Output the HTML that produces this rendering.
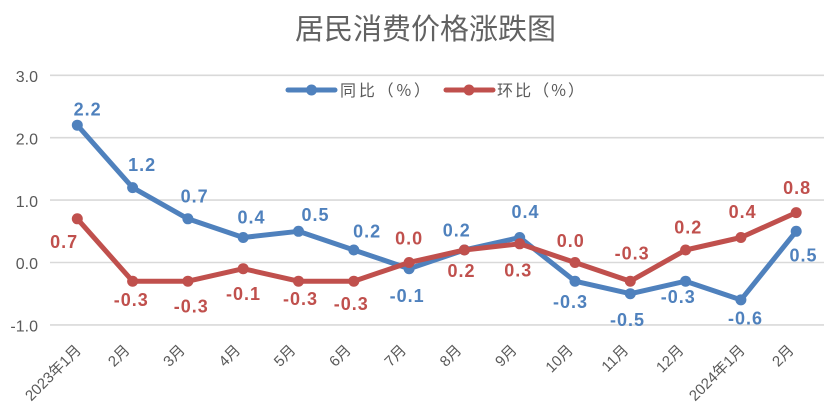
<!DOCTYPE html>
<html>
<head>
<meta charset="utf-8">
<style>
html,body{margin:0;padding:0;background:#fff;}
svg{display:block;}
text{font-family:"Liberation Sans","Noto Sans CJK SC",sans-serif;}
.yl{font-size:16px;fill:#595959;text-anchor:end;}
.xl{font-size:15px;fill:#595959;text-anchor:end;}
.bl{font-size:18px;font-weight:bold;fill:#4F81BD;text-anchor:middle;letter-spacing:1px;}
.rl{font-size:18px;font-weight:bold;fill:#C0504D;text-anchor:middle;letter-spacing:1px;}
</style>
</head>
<body>
<svg width="827" height="414" viewBox="0 0 827 414" xmlns="http://www.w3.org/2000/svg">
<rect width="827" height="414" fill="#fff"/>
<!-- title -->
<text x="295" y="39" style="font-family:'Noto Sans CJK SC',sans-serif;font-size:29px;fill:#626262;">居民消费价格涨跌图</text>

<!-- gridlines -->
<g stroke="#D9D9D9" stroke-width="1.6">
<line x1="50" y1="75.3" x2="824" y2="75.3"/>
<line x1="50" y1="137.7" x2="824" y2="137.7"/>
<line x1="50" y1="200.1" x2="824" y2="200.1"/>
<line x1="50" y1="262.5" x2="824" y2="262.5"/>
<line x1="50" y1="324.9" x2="824" y2="324.9"/>
</g>

<!-- y labels -->
<text class="yl" x="38" y="82">3.0</text>
<text class="yl" x="38" y="144.4">2.0</text>
<text class="yl" x="38" y="206.8">1.0</text>
<text class="yl" x="38" y="269.2">0.0</text>
<text class="yl" x="38" y="331.6">-1.0</text>

<!-- legend -->
<line x1="288" y1="90" x2="335" y2="90" stroke="#4F81BD" stroke-width="5" stroke-linecap="round"/>
<circle cx="311.5" cy="90" r="5.5" fill="#4F81BD"/>
<text x="340" y="96" textLength="90" lengthAdjust="spacing" style="font-family:'Noto Sans CJK SC',sans-serif;font-size:16px;fill:#595959;">同比（%）</text>
<line x1="446" y1="90" x2="493" y2="90" stroke="#C0504D" stroke-width="5" stroke-linecap="round"/>
<circle cx="469" cy="90" r="5.5" fill="#C0504D"/>
<text x="497" y="96" textLength="87" lengthAdjust="spacing" style="font-family:'Noto Sans CJK SC',sans-serif;font-size:16px;fill:#595959;">环比（%）</text>

<!-- blue series -->
<g fill="#4F81BD">
<polyline fill="none" stroke="#4F81BD" stroke-width="5" stroke-linejoin="round" stroke-linecap="round"
points="77.3,125.2 132.6,187.6 187.9,218.8 243.2,237.5 298.5,231.3 353.8,250 409.1,268.7 464.4,250 519.7,237.5 575,281.2 630.3,293.7 685.6,281.2 740.9,299.9 796.2,231.3"/>
<circle cx="77.3" cy="125.2" r="5.5"/>
<circle cx="132.6" cy="187.6" r="5.5"/>
<circle cx="187.9" cy="218.8" r="5.5"/>
<circle cx="243.2" cy="237.5" r="5.5"/>
<circle cx="298.5" cy="231.3" r="5.5"/>
<circle cx="353.8" cy="250" r="5.5"/>
<circle cx="409.1" cy="268.7" r="5.5"/>
<circle cx="464.4" cy="250" r="5.5"/>
<circle cx="519.7" cy="237.5" r="5.5"/>
<circle cx="575" cy="281.2" r="5.5"/>
<circle cx="630.3" cy="293.7" r="5.5"/>
<circle cx="685.6" cy="281.2" r="5.5"/>
<circle cx="740.9" cy="299.9" r="5.5"/>
<circle cx="796.2" cy="231.3" r="5.5"/>
</g>

<!-- red series -->
<g fill="#C0504D">
<polyline fill="none" stroke="#C0504D" stroke-width="5" stroke-linejoin="round" stroke-linecap="round"
points="77.3,218.8 132.6,281.2 187.9,281.2 243.2,268.7 298.5,281.2 353.8,281.2 409.1,262.5 464.4,250 519.7,243.8 575,262.5 630.3,281.2 685.6,250 740.9,237.5 796.2,212.6"/>
<circle cx="77.3" cy="218.8" r="5.5"/>
<circle cx="132.6" cy="281.2" r="5.5"/>
<circle cx="187.9" cy="281.2" r="5.5"/>
<circle cx="243.2" cy="268.7" r="5.5"/>
<circle cx="298.5" cy="281.2" r="5.5"/>
<circle cx="353.8" cy="281.2" r="5.5"/>
<circle cx="409.1" cy="262.5" r="5.5"/>
<circle cx="464.4" cy="250" r="5.5"/>
<circle cx="519.7" cy="243.8" r="5.5"/>
<circle cx="575" cy="262.5" r="5.5"/>
<circle cx="630.3" cy="281.2" r="5.5"/>
<circle cx="685.6" cy="250" r="5.5"/>
<circle cx="740.9" cy="237.5" r="5.5"/>
<circle cx="796.2" cy="212.6" r="5.5"/>
</g>

<!-- blue labels -->
<text class="bl" x="87.7" y="115.6">2.2</text>
<text class="bl" x="142.2" y="171.1">1.2</text>
<text class="bl" x="194.7" y="202.6">0.7</text>
<text class="bl" x="251.5" y="223.4">0.4</text>
<text class="bl" x="315.5" y="221.1">0.5</text>
<text class="bl" x="367.2" y="237.4">0.2</text>
<text class="bl" x="407.2" y="301.9">-0.1</text>
<text class="bl" x="456.8" y="236.4">0.2</text>
<text class="bl" x="525.5" y="218.1">0.4</text>
<text class="bl" x="570.5" y="308.1">-0.3</text>
<text class="bl" x="627.5" y="326.1">-0.5</text>
<text class="bl" x="678.3" y="303.1">-0.3</text>
<text class="bl" x="745.5" y="324.7">-0.6</text>
<text class="bl" x="803.5" y="261.4">0.5</text>

<!-- red labels -->
<text class="rl" x="64.2" y="248.1">0.7</text>
<text class="rl" x="131.3" y="306.1">-0.3</text>
<text class="rl" x="191.3" y="312.4">-0.3</text>
<text class="rl" x="243.5" y="300.1">-0.1</text>
<text class="rl" x="300.5" y="305.2">-0.3</text>
<text class="rl" x="351.3" y="310.1">-0.3</text>
<text class="rl" x="409.2" y="244.7">0.0</text>
<text class="rl" x="461.5" y="277.1">0.2</text>
<text class="rl" x="518.3" y="276.7">0.3</text>
<text class="rl" x="570.8" y="247.2">0.0</text>
<text class="rl" x="632.2" y="259.7">-0.3</text>
<text class="rl" x="688.3" y="233.4">0.2</text>
<text class="rl" x="742.7" y="218.1">0.4</text>
<text class="rl" x="797.2" y="194.2">0.8</text>

<!-- x labels -->
<g class="xl">
<text class="xl" transform="translate(82,351) rotate(-45)">2023年1月</text>
<text class="xl" transform="translate(130.6,351) rotate(-45)">2月</text>
<text class="xl" transform="translate(185.9,351) rotate(-45)">3月</text>
<text class="xl" transform="translate(241.2,351) rotate(-45)">4月</text>
<text class="xl" transform="translate(296.5,351) rotate(-45)">5月</text>
<text class="xl" transform="translate(351.8,351) rotate(-45)">6月</text>
<text class="xl" transform="translate(407.1,351) rotate(-45)">7月</text>
<text class="xl" transform="translate(462.4,351) rotate(-45)">8月</text>
<text class="xl" transform="translate(517.7,351) rotate(-45)">9月</text>
<text class="xl" transform="translate(574,351) rotate(-45)">10月</text>
<text class="xl" transform="translate(629.3,351) rotate(-45)">11月</text>
<text class="xl" transform="translate(684.6,351) rotate(-45)">12月</text>
<text class="xl" transform="translate(745.9,351) rotate(-45)">2024年1月</text>
<text class="xl" transform="translate(794.7,351) rotate(-45)">2月</text>
</g>
</svg>
</body>
</html>
